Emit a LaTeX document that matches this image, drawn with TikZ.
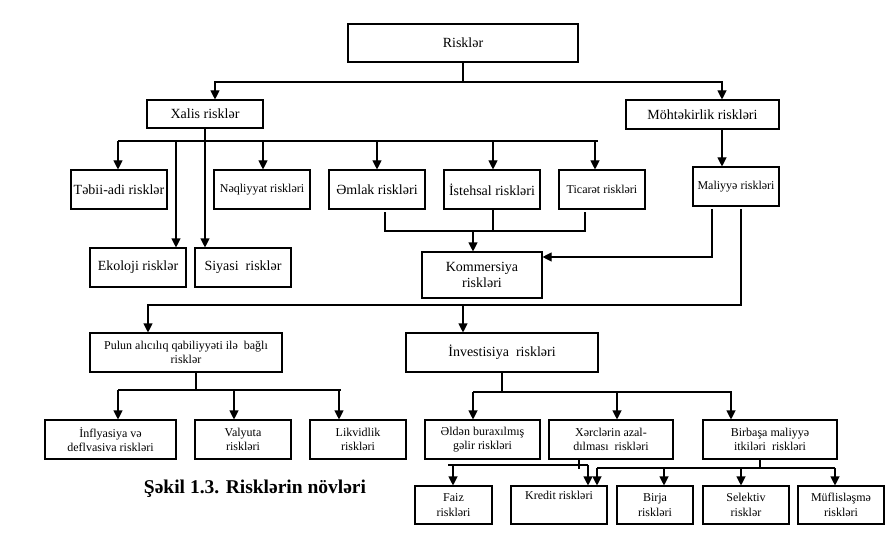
\documentclass[tikz,border=0pt]{standalone}
\usepackage{fontspec}
\setmainfont{Liberation Serif}
\usetikzlibrary{arrows.meta}
\tikzset{
  box/.style={draw, line width=1.1pt, inner sep=0pt, align=center, anchor=center},
  big/.style={font=\fontsize{14}{16}\selectfont},
  small/.style={font=\fontsize{12}{14.5}\selectfont},
  ln/.style={line width=1.1pt},
  arr/.style={line width=1.1pt, -{Triangle[width=9pt,length=9pt]}}
}
\newcommand\bx[7]{\node[box,#7,minimum width=#4pt,minimum height=#5pt] (#1) at (#2,#3) {#6};}
\begin{document}
\begin{tikzpicture}[x=1pt,y=-1pt]
\useasboundingbox (0,0) rectangle (891,540);
% boxes
\bx{risk}{463}{43}{230}{38}{Risklər}{big}
\bx{xalis}{205}{114}{116}{28}{Xalis risklər}{big}
\bx{moht}{702.5}{114.5}{153}{29}{Möhtəkirlik riskləri}{big}
\bx{tebii}{119}{189.5}{96}{39}{Təbii-adi risklər}{big}
\bx{neql}{262}{189.5}{96}{39}{Nəqliyyat riskləri}{small}
\bx{emlak}{377}{189.5}{96}{39}{Əmlak riskləri}{big}
\bx{isteh}{492}{189.5}{96}{39}{İstehsal riskləri}{big}
\bx{ticaret}{602}{189.5}{86}{39}{Ticarət riskləri}{small}
\bx{maliyye}{736}{186.5}{86}{39}{Maliyyə riskləri}{small}
\bx{ekoloji}{138}{267.5}{96}{39}{Ekoloji risklər}{big}
\bx{siyasi}{243}{267.5}{96}{39}{Siyasi\ \ risklər}{big}
\bx{kommers}{482}{275}{120}{46}{Kommersiya\\riskləri}{big}
\bx{pulun}{186}{352.5}{192}{39}{Pulun alıcılıq qabiliyyəti ilə\ \ bağlı\\risklər}{small}
\bx{invest}{502}{352.5}{192}{39}{İnvestisiya\ \ riskləri}{big}
\bx{infl}{110.5}{439.5}{131}{39}{İnflyasiya və\\deflvasiva riskləri}{small}
\bx{valyuta}{243}{439.5}{96}{39}{Valyuta\\riskləri}{small}
\bx{likvid}{358}{439.5}{96}{39}{Likvidlik\\riskləri}{small}
\bx{elden}{482.5}{439.5}{115}{39}{Əldən buraxılmış\\gəlir riskləri}{small}
\bx{xerc}{611}{439.5}{124}{39}{Xərclərin azal-\\dılması\ \ riskləri}{small}
\bx{birbasa}{770}{439.5}{134}{39}{Birbaşa maliyyə\\itkiləri\ \ riskləri}{small}
\bx{faiz}{453.5}{505}{77}{38}{Faiz\\riskləri}{small}
\bx{kredit}{559}{505}{96}{38}{Kredit riskləri\\\strut}{small}
\bx{birja}{655}{505}{76}{38}{Birja\\riskləri}{small}
\bx{selektiv}{746}{505}{86}{38}{Selektiv\\risklər}{small}
\bx{muflis}{841}{505}{86}{38}{Müflisləşmə\\riskləri}{small}
\node[font=\bfseries\fontsize{19.5}{22}\selectfont] (cap) at (255,489) {Şəkil 1.3. Risklərin növləri};
% top level
\coordinate (j0) at (463,82);
\draw[ln] (risk.south) -- (j0);
\draw[arr] (j0) -| (xalis.north -| 215,0);
\draw[arr] (j0) -| (moht.north -| 722,0);
\draw[arr] (moht.south -| 722,0) -- (maliyye.north -| 722,0);
% xalis
\coordinate (x1) at (118,141);
\coordinate (x2) at (598,141);
\draw[ln] (x1) -- (x2);
\draw[arr] (xalis.south -| 205,0) -- (siyasi.north -| 205,0);
\draw[arr] (x1) -- (tebii.north -| x1);
\draw[arr] (176,141) -- (ekoloji.north -| 176,0);
\draw[arr] (263,141) -- (neql.north -| 263,0);
\draw[arr] (377,141) -- (emlak.north -| 377,0);
\draw[arr] (493,141) -- (isteh.north -| 493,0);
\draw[arr] (595,141) -- (ticaret.north -| 595,0);
% kommersiya
\coordinate (k1) at (385,231);
\coordinate (k2) at (585,231);
\draw[ln] (385,212) -- (k1) -- (k2) -- (585,212);
\draw[ln] (isteh.south -| 493,0) -- (493,231);
\draw[arr] (473,231) -- (kommers.north -| 473,0);
% maliyye
\draw[arr] (712,209) |- (kommers.east |- 0,257);
\draw[arr] (741,209) |- (148,305) -- (pulun.north -| 148,0);
\draw[arr] (463,305) -- (invest.north -| 463,0);
% pulun
\draw[ln] (pulun.south -| 196,0) -- (196,390);
\draw[ln] (118,390) -- (341,390);
\draw[arr] (118,390) -- (infl.north -| 118,0);
\draw[arr] (234,390) -- (valyuta.north -| 234,0);
\draw[arr] (339,390) -- (likvid.north -| 339,0);
% invest
\draw[ln] (invest.south) -- (502,392);
\draw[ln] (473,392) -- (732,392);
\draw[arr] (473,392) -- (elden.north -| 473,0);
\draw[arr] (617,392) -- (xerc.north -| 617,0);
\draw[arr] (731,392) -- (birbasa.north -| 731,0);
% xerc
\draw[ln] (xerc.south -| 579,0) -- (579,469);
\draw[ln] (448,465) -- (588,465);
\draw[arr] (453,465) -- (faiz.north -| 453,0);
\draw[arr] (588,465) -- (kredit.north -| 588,0);
% birbasa
\draw[ln] (birbasa.south -| 760,0) -- (760,468);
\draw[ln] (597,468) -- (835,468);
\draw[arr] (597,468) -- (kredit.north -| 597,0);
\draw[arr] (664,468) -- (birja.north -| 664,0);
\draw[arr] (741,468) -- (selektiv.north -| 741,0);
\draw[arr] (835,468) -- (muflis.north -| 835,0);
\end{tikzpicture}
\end{document}
